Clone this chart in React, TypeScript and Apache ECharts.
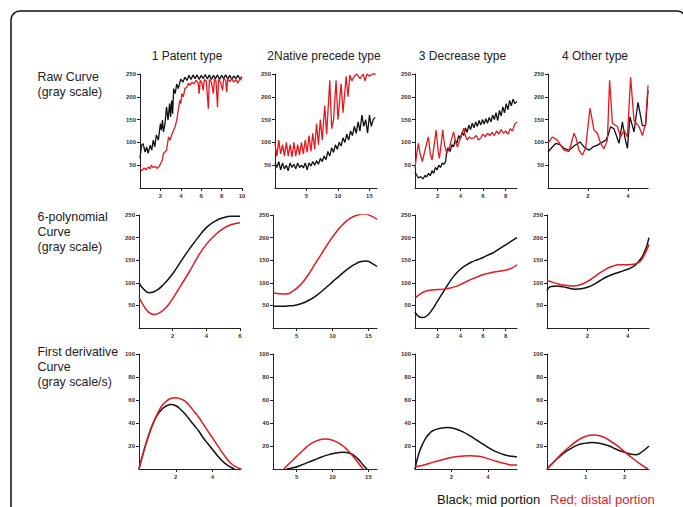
import React, { useEffect, useRef } from 'react';
import * as echarts from 'echarts';

const panelTitles = ['1 Patent type', '2Native precede type', '3 Decrease type', '4 Other type'];
const rowLabels = [
  ['Raw Curve', '(gray scale)'],
  ['6-polynomial', 'Curve', '(gray scale)'],
  ['First derivative', 'Curve', '(gray scale/s)'],
];
const legendTexts = ['Black; mid portion', 'Red; distal portion'];

const grayTicks = [50, 100, 150, 200, 250];
const slopeTicks = [20, 40, 60, 80, 100];
const xTickRows = [
  [[2, 4, 6, 8, 10], [5, 10, 15], [2, 4, 6, 8], [2, 4]],
  [[2, 4, 6], [5, 10, 15], [2, 4, 6, 8], [2, 4]],
  [[2, 4], [5, 10, 15], [2, 4], [1, 2]],
];
const xRangeRows = [
  [[0, 10], [0, 16.2], [0, 9], [0, 5]],
  [[0, 6], [1.7, 16.2], [0, 9], [0, 5.05]],
  [[0, 5.55], [1.7, 16.2], [0, 5.6], [0, 2.63]],
];

// ---- Raw curves ----
const rawPatentBlack = [[0,65],[0.15,94],[0.3,97],[0.5,79],[0.65,90],[0.8,76],[1.0,94],[1.15,83],[1.3,105],[1.45,90],[1.6,116],[1.8,105],[2.0,141],[2.1,127],[2.2,149],[2.3,123],[2.45,141],[2.6,178],[2.75,149],[2.9,185],[3.0,156],[3.1,192],[3.2,163],[3.3,218],[3.45,207],[3.6,228],[3.75,218],[4.0,239],[4.2,232],[4.4,243],[4.6,236],[4.8,247],[5.0,238],[5.2,248],[5.4,240],[5.6,248],[5.8,238],[6.0,247],[6.2,240],[6.4,249],[6.6,239],[6.8,248],[7.0,238],[7.2,247],[7.4,240],[7.6,248],[7.8,238],[8.0,247],[8.2,240],[8.4,248],[8.6,239],[8.8,247],[9.0,238],[9.2,246],[9.4,240],[9.6,247],[9.8,239],[10,244]];
const rawPatentRed = [[0,42],[0.2,38],[0.4,44],[0.6,40],[0.8,46],[1.0,42],[1.1,50],[1.3,45],[1.5,47],[1.7,43],[1.9,48],[2.1,57],[2.2,62],[2.3,76],[2.5,80],[2.6,83],[2.8,112],[2.95,105],[3.1,116],[3.3,127],[3.45,135],[3.6,149],[3.75,170],[3.9,192],[4.0,185],[4.1,207],[4.25,200],[4.4,218],[4.6,221],[4.75,230],[4.9,225],[5.1,232],[5.3,228],[5.5,236],[5.7,230],[5.8,207],[5.9,236],[6.05,232],[6.2,214],[6.3,238],[6.5,235],[6.7,174],[6.8,238],[7.0,232],[7.2,207],[7.3,240],[7.45,235],[7.6,177],[7.7,238],[7.9,232],[8.1,214],[8.2,240],[8.4,236],[8.5,210],[8.6,240],[8.8,233],[9.0,240],[9.2,232],[9.4,238],[9.6,230],[9.8,240],[10,236]];
const rawNativeBlack = [[0,55],[0.3,45],[0.6,58],[0.9,40],[1.2,55],[1.5,42],[1.8,50],[2.1,38],[2.4,55],[2.7,45],[3.0,52],[3.3,42],[3.6,55],[3.9,45],[4.2,50],[4.5,44],[4.8,55],[5.1,40],[5.4,55],[5.7,48],[6.0,58],[6.3,50],[6.6,60],[6.9,52],[7.2,65],[7.5,58],[7.8,70],[8.1,62],[8.4,80],[8.7,70],[9.0,88],[9.3,78],[9.6,95],[9.9,85],[10.2,100],[10.5,92],[10.8,110],[11.1,100],[11.4,118],[11.7,105],[12,125],[12.3,115],[12.6,135],[12.9,120],[13.2,145],[13.5,125],[13.8,160],[14.1,135],[14.4,150],[14.7,120],[15,160],[15.3,135],[15.6,150],[15.9,155]];
const rawNativeRed = [[0,98],[0.3,70],[0.6,105],[0.9,75],[1.2,95],[1.5,70],[1.8,100],[2.1,70],[2.4,95],[2.7,68],[3.0,100],[3.3,70],[3.6,95],[3.9,72],[4.2,100],[4.5,75],[4.8,105],[5.1,78],[5.4,115],[5.7,80],[6.0,120],[6.3,85],[6.6,141],[6.9,95],[7.2,150],[7.5,105],[7.9,181],[8.2,118],[8.7,236],[9.0,130],[9.3,150],[9.7,236],[10.0,150],[10.5,229],[10.8,165],[11.3,245],[11.6,200],[11.9,248],[12.2,235],[12.6,245],[13,250],[13.5,240],[14,250],[14.3,235],[14.6,250],[15,245],[15.5,250],[16,250]];
const rawDecreaseBlack = [[0,35],[0.15,28],[0.3,22],[0.5,25],[0.7,20],[0.9,28],[1.0,24],[1.2,32],[1.35,27],[1.5,38],[1.65,32],[1.8,45],[1.95,40],[2.1,50],[2.25,45],[2.4,55],[2.55,52],[2.7,58],[2.8,80],[2.9,88],[3.1,80],[3.25,95],[3.4,90],[3.55,105],[3.7,98],[3.85,115],[4.0,108],[4.15,122],[4.3,115],[4.45,132],[4.6,122],[4.75,138],[4.9,128],[5.05,142],[5.2,132],[5.35,145],[5.5,135],[5.65,148],[5.8,138],[5.95,150],[6.1,140],[6.25,152],[6.4,142],[6.55,155],[6.7,145],[6.85,160],[7.0,150],[7.15,165],[7.3,148],[7.45,170],[7.6,158],[7.75,178],[7.9,165],[8.05,185],[8.2,172],[8.35,192],[8.5,180],[8.65,195],[8.8,185],[9.0,190]];
const rawDecreaseRed = [[0,44],[0.15,75],[0.3,98],[0.45,75],[0.65,58],[0.85,80],[1.18,112],[1.35,75],[1.5,61],[1.7,95],[1.86,127],[2.05,80],[2.15,65],[2.3,95],[2.45,127],[2.6,95],[2.8,76],[3.0,85],[3.15,100],[3.4,123],[3.6,100],[3.75,90],[3.95,105],[4.3,131],[4.45,115],[4.6,105],[4.8,112],[5.0,108],[5.2,110],[5.4,115],[5.6,105],[5.8,110],[6.0,118],[6.2,112],[6.4,120],[6.6,115],[6.8,122],[7.0,115],[7.2,125],[7.4,118],[7.6,128],[7.8,120],[8.0,125],[8.2,118],[8.4,130],[8.6,125],[8.8,140],[9.0,145]];
const rawOtherBlack = [[0,79],[0.22,90],[0.4,98],[0.6,95],[0.8,87],[1.05,83],[1.3,92],[1.6,101],[1.8,90],[2.05,83],[2.25,90],[2.47,94],[2.7,100],[2.9,105],[3.0,115],[3.13,134],[3.3,130],[3.55,98],[3.72,145],[3.85,110],[3.97,87],[4.1,156],[4.3,123],[4.5,188],[4.72,137],[4.88,137],[5.0,214]];
const rawOtherRed = [[0,98],[0.22,112],[0.47,105],[0.8,83],[1.05,80],[1.3,120],[1.4,110],[1.55,83],[1.72,72],[1.88,88],[2.1,175],[2.3,127],[2.47,120],[2.63,98],[2.8,86],[2.97,105],[3.08,236],[3.22,142],[3.47,135],[3.63,112],[3.8,127],[3.97,112],[4.13,243],[4.3,148],[4.55,135],[4.72,115],[4.88,142],[5.0,225]];

// ---- 6-polynomial curves ----
const polyPatentBlack = [[0,100],[0.3,85],[0.6,78],[1,82],[1.5,98],[2,120],[2.5,148],[3,175],[3.5,200],[4,222],[4.5,236],[5,244],[5.5,247],[6,247]];
const polyPatentRed = [[0,68],[0.3,48],[0.6,34],[0.9,30],[1.2,33],[1.6,45],[2,65],[2.5,95],[3,125],[3.5,158],[4,185],[4.5,205],[5,220],[5.5,229],[6,233]];
const polyNativeBlack = [[1.7,48],[3,48],[4,49],[5,51],[6,56],[7,64],[8,75],[9,88],[10,102],[11,116],[12,129],[13,140],[14,147],[14.7,148],[15.5,143],[16.2,136]];
const polyNativeRed = [[1.7,78],[2.5,76],[3.5,75],[4.5,82],[5.5,95],[6.5,115],[7.5,140],[8.5,165],[9.5,190],[10.5,212],[11.5,230],[12.5,243],[13.5,250],[14.5,252],[15.5,247],[16.2,240]];
const polyDecreaseBlack = [[0,35],[0.3,26],[0.6,23],[1,26],[1.5,40],[2,60],[2.5,80],[3,100],[3.5,117],[4,130],[4.5,139],[5,146],[5.5,151],[6,156],[6.5,162],[7,168],[7.5,176],[8,184],[8.5,192],[9,200]];
const polyDecreaseRed = [[0,66],[0.5,76],[1,82],[1.5,84],[2,85],[2.5,86],[3,88],[3.5,91],[4,96],[4.5,102],[5,108],[5.5,113],[6,118],[6.5,121],[7,124],[7.5,126],[8,128],[8.5,132],[9,140]];
const polyOtherBlack = [[0,83],[0.2,92],[0.5,93],[0.8,91],[1.1,88],[1.4,86],[1.7,87],[2,90],[2.3,96],[2.6,104],[3,114],[3.4,121],[3.8,127],[4.2,134],[4.5,145],[4.8,165],[5.05,200]];
const polyOtherRed = [[0,105],[0.3,101],[0.6,97],[1,94],[1.3,93],[1.6,95],[2,103],[2.4,115],[2.8,127],[3.2,136],[3.6,140],[4,140],[4.3,141],[4.6,147],[4.8,160],[5.05,185]];

// ---- First derivative curves ----
const derivPatentBlack = [[0,0],[0.25,15],[0.5,28],[0.75,39],[1,47],[1.25,52],[1.5,55],[1.75,56],[2,55],[2.25,52],[2.5,48],[2.75,43],[3,38],[3.25,33],[3.5,27],[3.75,22],[4,17],[4.25,12],[4.5,7.5],[4.75,4],[5,1.5],[5.2,0]];
const derivPatentRed = [[0,0],[0.25,15],[0.5,28],[0.75,39],[1,48],[1.25,55],[1.5,59],[1.75,61.5],[2,62],[2.25,61],[2.5,59],[2.75,55],[3,50],[3.25,45],[3.5,39],[3.75,33],[4,27],[4.25,21],[4.5,15],[4.75,9.5],[5,5],[5.25,2],[5.55,0]];
const derivNativeBlack = [[3.6,0],[4.5,1],[5.5,3],[6.5,5.5],[7.5,8],[8.5,10.5],[9.5,12.5],[10.5,14],[11.5,14.5],[12.5,13.5],[13.5,9],[14.2,4],[14.8,0]];
const derivNativeRed = [[3.2,0],[4,5],[5,11],[6,17],[7,22],[8,25],[9,26],[10,25],[11,22],[12,17],[13,10],[14,2],[14.3,0]];
const derivDecreaseBlack = [[0,0],[0.2,13],[0.4,21],[0.6,27],[0.8,31],[1.0,33.5],[1.4,35.5],[1.8,36],[2.2,35],[2.6,32.5],[3,29],[3.4,25],[3.8,21],[4.2,17],[4.6,14],[5,12],[5.3,11],[5.6,10.5]];
const derivDecreaseRed = [[0,2],[0.5,3.5],[1,6],[1.5,8],[2,10],[2.5,11],[3,11.5],[3.5,11],[4,9],[4.5,6.5],[5,4.5],[5.3,3.5],[5.6,3.5]];
const derivOtherBlack = [[0,0],[0.2,7],[0.4,13],[0.6,17.5],[0.8,21],[1.0,22.5],[1.15,23],[1.4,22],[1.6,20],[1.8,17],[2.0,14.5],[2.15,13],[2.3,12.5],[2.45,15],[2.63,20]];
const derivOtherRed = [[0,0],[0.2,7],[0.4,14],[0.6,20],[0.8,25],[1.0,28.5],[1.2,29.5],[1.4,28.5],[1.6,25],[1.8,20.5],[2.0,15],[2.2,9.5],[2.4,4.5],[2.6,0]];

const blackRows = [
  [rawPatentBlack, rawNativeBlack, rawDecreaseBlack, rawOtherBlack],
  [polyPatentBlack, polyNativeBlack, polyDecreaseBlack, polyOtherBlack],
  [derivPatentBlack, derivNativeBlack, derivDecreaseBlack, derivOtherBlack],
];
const redRows = [
  [rawPatentRed, rawNativeRed, rawDecreaseRed, rawOtherRed],
  [polyPatentRed, polyNativeRed, polyDecreaseRed, polyOtherRed],
  [derivPatentRed, derivNativeRed, derivDecreaseRed, derivOtherRed],
];
const yTickRows = [grayTicks, grayTicks, slopeTicks];
const yMaxRows = [250, 250, 100];

const BLACK = '#111111';
const RED = '#e3191f';
const FONT = 'Liberation Sans, Arial, sans-serif';

export default function App() {
  const ref = useRef<HTMLDivElement>(null);
  useEffect(() => {
    if (!ref.current) return;
    const chart = echarts.init(ref.current, null, { renderer: 'svg' });
    const rowTops = [74, 215, 354];
    const rowHeights = [114, 113, 115];
    const colLefts = [[140, 275, 415, 548], [139, 273, 415, 547], [139, 273, 415, 547]];
    const colWidths = [[102, 102, 102, 100], [101, 104, 102, 102], [102, 104, 102, 102]];
    const grid: any[] = [];
    const xAxis: any[] = [];
    const yAxis: any[] = [];
    const series: any[] = [];
    const labelStyle = { fontSize: 6, fontWeight: 'bold', color: '#333', fontFamily: FONT };
    for (let r = 0; r < 3; r++) {
      for (let c = 0; c < 4; c++) {
        const idx = grid.length;
        grid.push({ left: colLefts[r][c], top: rowTops[r], width: colWidths[r][c], height: rowHeights[r], containLabel: false });
        const [xmin, xmax] = xRangeRows[r][c];
        xAxis.push({
          type: 'value', gridIndex: idx, min: xmin, max: xmax,
          axisLine: { show: true, onZero: false, lineStyle: { color: '#222', width: 1 } },
          axisTick: { show: true, length: 3, customValues: xTickRows[r][c], lineStyle: { color: '#222' } },
          axisLabel: { ...labelStyle, margin: 5, customValues: xTickRows[r][c] },
          splitLine: { show: false },
        });
        yAxis.push({
          type: 'value', gridIndex: idx, min: 0, max: yMaxRows[r],
          axisLine: { show: true, lineStyle: { color: '#222', width: 1 } },
          axisTick: { show: true, length: 3, customValues: yTickRows[r], lineStyle: { color: '#222' } },
          axisLabel: { ...labelStyle, margin: 4, customValues: yTickRows[r] },
          splitLine: { show: false },
        });
        const smooth = r > 0;
        const lw = r === 0 ? 1.3 : 1.5;
        series.push({
          type: 'line', xAxisIndex: idx, yAxisIndex: idx, data: blackRows[r][c],
          showSymbol: false, smooth, lineStyle: { color: BLACK, width: lw }, itemStyle: { color: BLACK }, z: 2,
        });
        series.push({
          type: 'line', xAxisIndex: idx, yAxisIndex: idx, data: redRows[r][c],
          showSymbol: false, smooth, lineStyle: { color: RED, width: lw }, itemStyle: { color: RED }, z: 3,
        });
      }
    }
    const graphic: any[] = [];
    graphic.push({
      type: 'rect', shape: { x: 11, y: 11, width: 675, height: 520, r: 9 },
      style: { fill: 'none', stroke: '#111', lineWidth: 1.5 }, silent: true,
    });
    const titleX = [187, 324, 462.5, 595];
    panelTitles.forEach((t, i) => {
      graphic.push({
        type: 'text', x: titleX[i], y: 56,
        style: { text: t, fontSize: 12, fontFamily: FONT, fill: '#222', textAlign: 'center', textVerticalAlign: 'middle' },
      });
    });
    const rowLabelY = [[77, 92], [216.5, 231.5, 246.5], [351.5, 367, 382]];
    rowLabels.forEach((lines, r) => {
      lines.forEach((t, k) => {
        graphic.push({
          type: 'text', x: 37.5, y: rowLabelY[r][k],
          style: { text: t, fontSize: 12.4, fontFamily: FONT, fill: '#222', textAlign: 'left', textVerticalAlign: 'middle' },
        });
      });
    });
    graphic.push({
      type: 'text', x: 437, y: 499,
      style: { text: legendTexts[0], fontSize: 13, fontFamily: FONT, fill: '#111', textAlign: 'left', textVerticalAlign: 'middle' },
    });
    graphic.push({
      type: 'text', x: 550, y: 499,
      style: { text: legendTexts[1], fontSize: 13, fontFamily: FONT, fill: RED, textAlign: 'left', textVerticalAlign: 'middle' },
    });
    chart.setOption({
      animation: false,
      backgroundColor: '#ffffff',
      grid, xAxis, yAxis, series, graphic,
    });
    return () => chart.dispose();
  }, []);
  return <div ref={ref} style={{ position: 'absolute', left: 0, top: 0, width: 683, height: 507 }} />;
}
